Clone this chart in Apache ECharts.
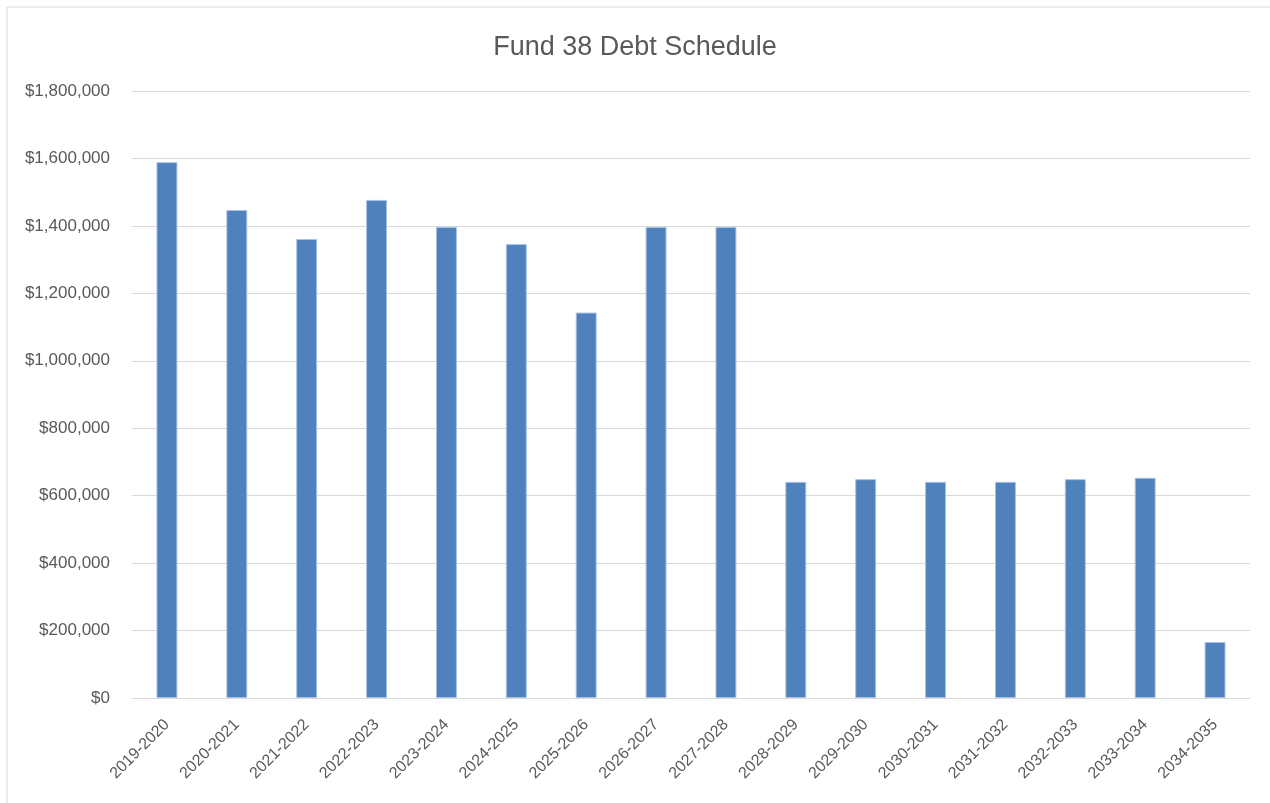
<!DOCTYPE html>
<html>
<head>
<meta charset="utf-8">
<script src="https://cdn.jsdelivr.net/npm/echarts@6/dist/echarts.min.js"></script>
<style>
  html, body { margin: 0; padding: 0; background: #fff; }
  #main { width: 1270px; height: 803px; }
</style>
</head>
<body>
<div id="main"></div>
<script>
// fiscal years
var years = ['2019-2020', '2020-2021', '2021-2022', '2022-2023', '2023-2024', '2024-2025',
  '2025-2026', '2026-2027', '2027-2028', '2028-2029', '2029-2030', '2030-2031',
  '2031-2032', '2032-2033', '2033-2034', '2034-2035'];
// debt payment per year
var debt = [1589000, 1447000, 1361000, 1477000, 1397000, 1346000,
  1143000, 1397000, 1397000, 641000, 649000, 641000,
  641000, 649000, 653000, 166000];

var chart = echarts.init(document.getElementById('main'));
var textColor = '#595959';
var font = '"Liberation Sans", Arial, sans-serif';

chart.setOption({
  animation: false,
  title: {
    text: 'Fund 38 Debt Schedule',
    left: 'center',
    top: 29,
    textStyle: { fontFamily: font, fontSize: 27, fontWeight: 'normal', color: textColor }
  },
  graphic: [{
    type: 'rect',
    shape: { x: 7, y: 7, width: 1300, height: 900 },
    style: { fill: 'none', stroke: '#d9d9d9', lineWidth: 1 },
    silent: true
  }],
  grid: { left: 132, right: 20, top: 91, bottom: 105 },
  xAxis: {
    type: 'category',
    data: years,
    axisLine: { lineStyle: { color: '#d9d9d9', width: 1 } },
    axisTick: { show: false },
    axisLabel: {
      rotate: 45,
      interval: 0,
      margin: 24,
      color: textColor,
      fontFamily: font,
      fontSize: 16
    }
  },
  yAxis: {
    type: 'value',
    min: 0,
    max: 1800000,
    interval: 200000,
    axisLine: { show: false },
    axisTick: { show: false },
    splitLine: { lineStyle: { color: '#d9d9d9', width: 1 } },
    axisLabel: {
      margin: 22,
      color: textColor,
      fontFamily: font,
      fontSize: 17,
      formatter: function (v) { return '$' + v.toLocaleString('en-US'); }
    }
  },
  series: [{
    type: 'bar',
    data: debt,
    barWidth: '30%',
    itemStyle: { color: '#4f81bd', borderColor: '#a9c3e3', borderWidth: 1 }
  }]
});
</script>
</body>
</html>
